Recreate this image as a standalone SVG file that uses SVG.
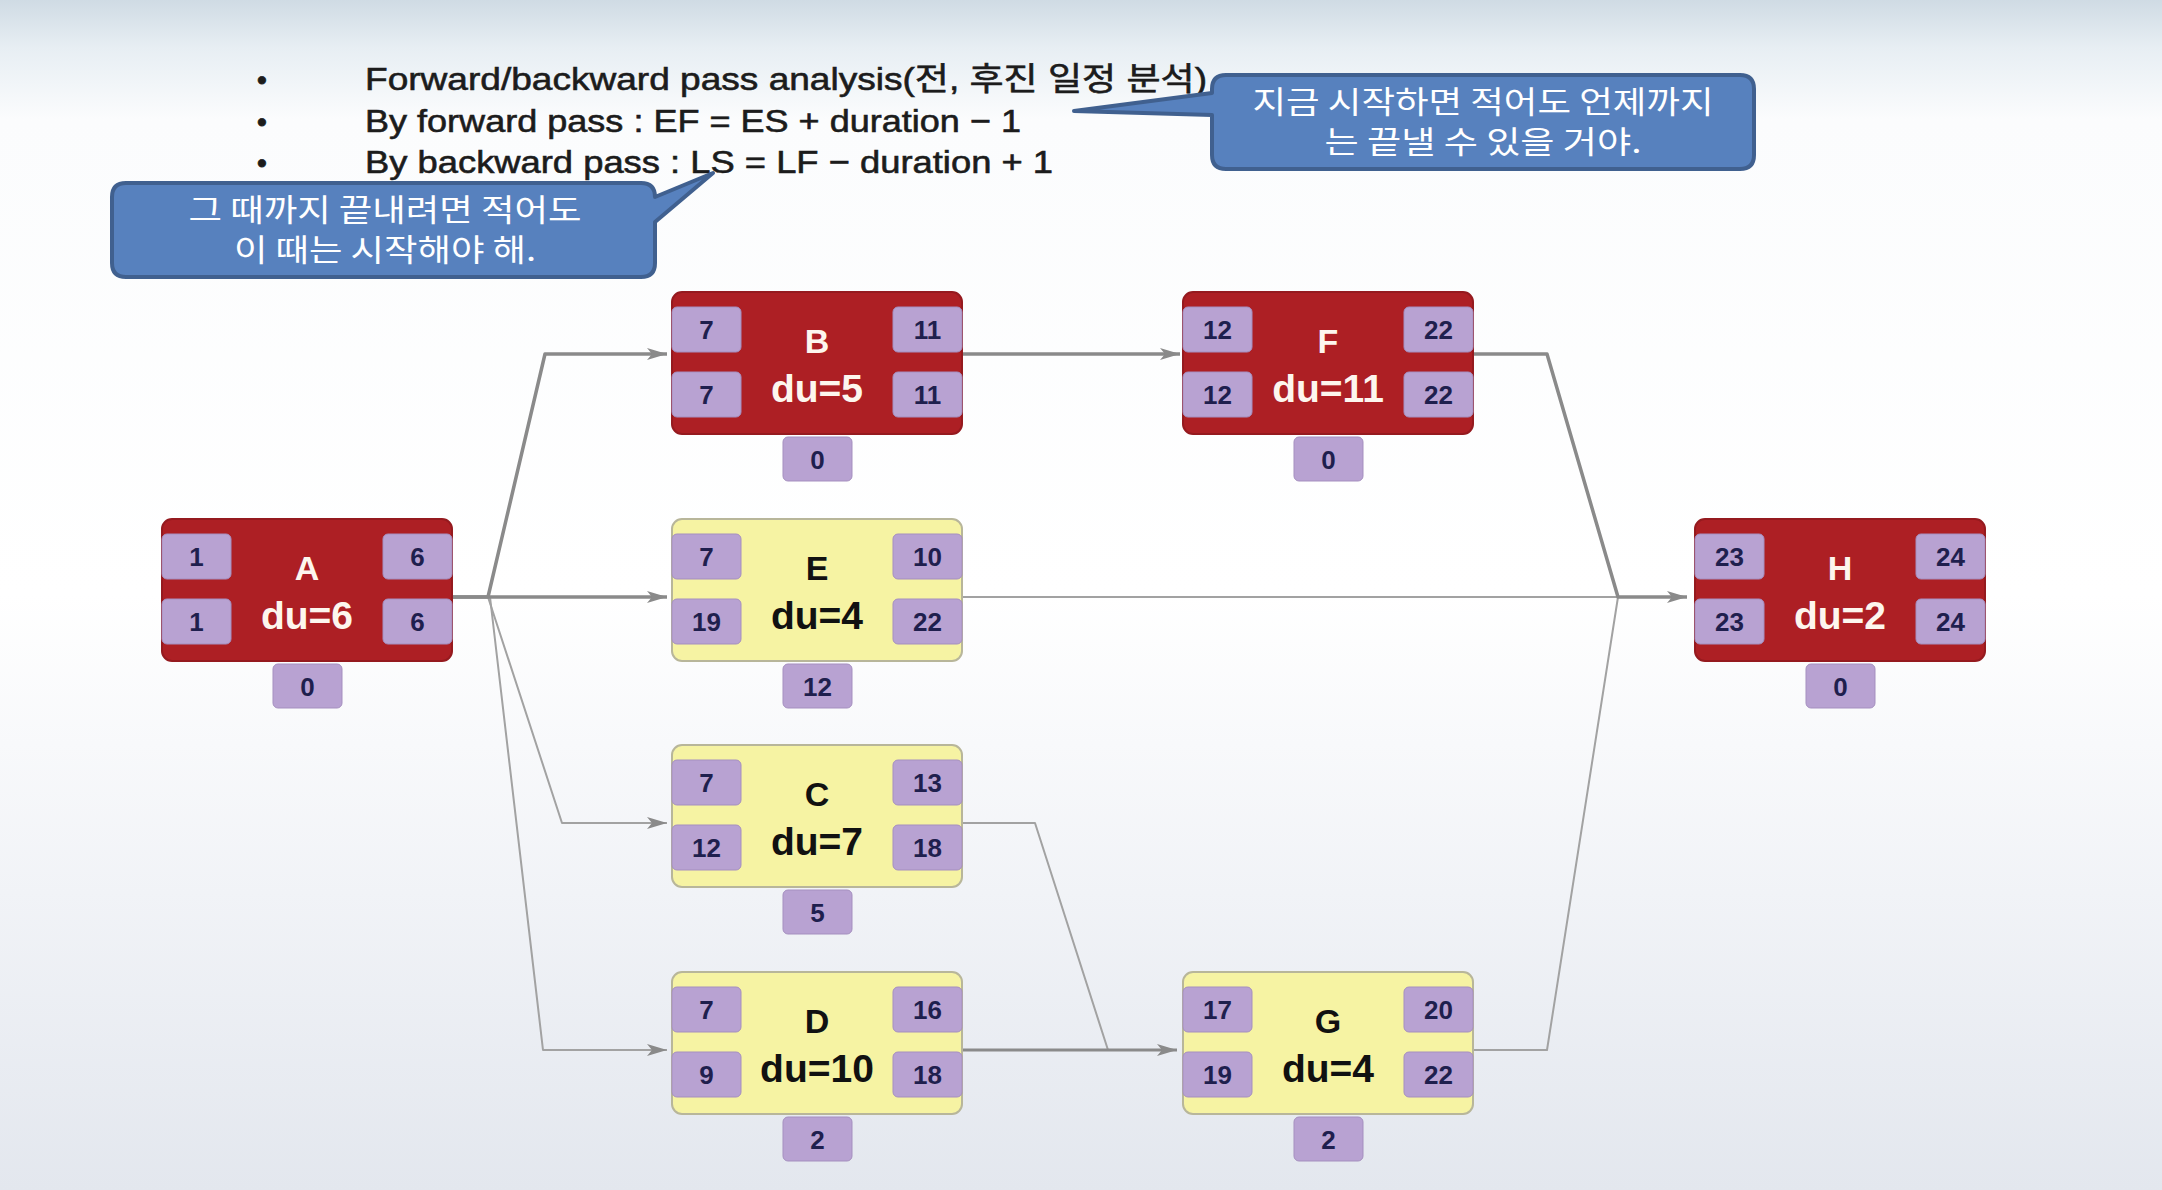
<svg xmlns="http://www.w3.org/2000/svg" width="2162" height="1190" viewBox="0 0 2162 1190">
<defs>
<linearGradient id="bg" x1="0" y1="0" x2="0" y2="1">
<stop offset="0" stop-color="#cfdbe4"/>
<stop offset="0.04" stop-color="#e7eef3"/>
<stop offset="0.1" stop-color="#fbfcfd"/>
<stop offset="0.5" stop-color="#ffffff"/>
<stop offset="0.75" stop-color="#f1f3f7"/>
<stop offset="1" stop-color="#e3e7ee"/>
</linearGradient>
<marker id="ah" markerUnits="userSpaceOnUse" markerWidth="22" markerHeight="14" refX="20" refY="7" orient="auto">
<path d="M0,1 L20,7 L0,13 L5,7 Z" fill="#8a8a8a"/>
</marker>
</defs>
<style>
.hdr{font-family:"Liberation Sans","Noto Sans CJK KR",sans-serif;font-size:32px;fill:#1c1c1c;stroke:#1c1c1c;stroke-width:0.6}
.bul{font-family:"Liberation Sans",sans-serif;font-size:28px;fill:#1c1c1c;stroke:#1c1c1c;stroke-width:0.8}
.call{fill:#5781be;stroke:#40608f;stroke-width:4;stroke-linejoin:round}
.ct{font-family:"Noto Sans CJK KR",sans-serif;font-size:31px;fill:#ffffff;text-anchor:middle}
.red{fill:#ad1f24;stroke:#951a1f;stroke-width:2}
.yel{fill:#f6f3a3;stroke:#b8b69a;stroke-width:2}
.pb{fill:#b8a2d2;stroke:#a58fbf;stroke-width:1}
.num{font-family:"Liberation Sans",sans-serif;font-weight:bold;font-size:26px;fill:#1f1f4e;text-anchor:middle}
.lt{font-family:"Liberation Sans",sans-serif;font-weight:bold;font-size:34px;text-anchor:middle}
.du{font-family:"Liberation Sans",sans-serif;font-weight:bold;font-size:39px;text-anchor:middle}
.w{fill:#fdf6ee}
.k{fill:#111111}
.thick{fill:none;stroke:#8a8a8a;stroke-width:3.5;stroke-linejoin:round}
.thin{fill:none;stroke:#a2a2a2;stroke-width:2;stroke-linejoin:round}
</style>
<rect x="0" y="0" width="2162" height="1190" fill="url(#bg)"/>

<g id="header">
<text class="bul" x="257" y="89">•</text>
<text class="bul" x="257" y="131">•</text>
<text class="bul" x="257" y="172">•</text>
<text class="hdr" x="365" y="90" textLength="842" lengthAdjust="spacingAndGlyphs">Forward/backward pass analysis(전, 후진 일정 분석)</text>
<text class="hdr" x="365" y="132" textLength="656" lengthAdjust="spacingAndGlyphs">By forward pass : EF = ES + duration − 1</text>
<text class="hdr" x="365" y="173" textLength="688" lengthAdjust="spacingAndGlyphs">By backward pass : LS = LF − duration + 1</text>
</g>

<g id="callout-right">
<path class="call" d="M1226,75 H1740 Q1754,75 1754,89 V155 Q1754,169 1740,169 H1226 Q1212,169 1212,155 V115 L1074,111 L1212,93 V89 Q1212,75 1226,75 Z"/>
<text class="ct" x="1483" y="113" textLength="461" lengthAdjust="spacingAndGlyphs">지금 시작하면 적어도 언제까지</text>
<text class="ct" x="1483" y="153" textLength="317" lengthAdjust="spacingAndGlyphs">는 끝낼 수 있을 거야.</text>
</g>

<g id="callout-left">
<path class="call" d="M126,183 H641 Q655,183 655,197 L713,173 L655,222 V263 Q655,277 641,277 H126 Q112,277 112,263 V197 Q112,183 126,183 Z"/>
<text class="ct" x="385" y="221" textLength="393" lengthAdjust="spacingAndGlyphs">그 때까지 끝내려면 적어도</text>
<text class="ct" x="385" y="261" textLength="302" lengthAdjust="spacingAndGlyphs">이 때는 시작해야 해.</text>
</g>

<g id="connectors">
<path class="thin" d="M488,597 L562,823 H667" marker-end="url(#ah)"/>
<path class="thin" d="M490,597 L543,1050 H667" marker-end="url(#ah)"/>
<path class="thin" d="M962,597 H1618"/>
<path class="thin" d="M962,823 H1035 L1108,1050"/>
<path class="thin" d="M1473,1050 H1547 L1618,597"/>
<path class="thick" d="M452,597 H488 L545,354 H667" marker-end="url(#ah)"/>
<path class="thick" d="M452,597 H667" marker-end="url(#ah)"/>
<path class="thick" d="M962,354 H1180" marker-end="url(#ah)"/>
<path class="thick" d="M1473,354 H1547 L1618,597 H1687" marker-end="url(#ah)"/>
<path class="thick" style="stroke-width:3" d="M962,1050 H1177" marker-end="url(#ah)"/>
</g>

<g id="node-A" transform="translate(162,519)">
<rect class="red" x="0" y="0" width="290" height="142" rx="10"/>
<rect class="pb" x="0" y="15" width="69" height="45" rx="5"/><text class="num" x="34.5" y="47">1</text>
<rect class="pb" x="0" y="80" width="69" height="45" rx="5"/><text class="num" x="34.5" y="112">1</text>
<rect class="pb" x="221" y="15" width="69" height="45" rx="5"/><text class="num" x="255.5" y="47">6</text>
<rect class="pb" x="221" y="80" width="69" height="45" rx="5"/><text class="num" x="255.5" y="112">6</text>
<text class="lt w" x="145" y="61">A</text><text class="du w" x="145" y="110">du=6</text>
<rect class="pb" x="111" y="145" width="69" height="44" rx="5"/><text class="num" x="145.5" y="177">0</text>
</g>

<g id="node-B" transform="translate(672,292)">
<rect class="red" x="0" y="0" width="290" height="142" rx="10"/>
<rect class="pb" x="0" y="15" width="69" height="45" rx="5"/><text class="num" x="34.5" y="47">7</text>
<rect class="pb" x="0" y="80" width="69" height="45" rx="5"/><text class="num" x="34.5" y="112">7</text>
<rect class="pb" x="221" y="15" width="69" height="45" rx="5"/><text class="num" x="255.5" y="47">11</text>
<rect class="pb" x="221" y="80" width="69" height="45" rx="5"/><text class="num" x="255.5" y="112">11</text>
<text class="lt w" x="145" y="61">B</text><text class="du w" x="145" y="110">du=5</text>
<rect class="pb" x="111" y="145" width="69" height="44" rx="5"/><text class="num" x="145.5" y="177">0</text>
</g>

<g id="node-E" transform="translate(672,519)">
<rect class="yel" x="0" y="0" width="290" height="142" rx="10"/>
<rect class="pb" x="0" y="15" width="69" height="45" rx="5"/><text class="num" x="34.5" y="47">7</text>
<rect class="pb" x="0" y="80" width="69" height="45" rx="5"/><text class="num" x="34.5" y="112">19</text>
<rect class="pb" x="221" y="15" width="69" height="45" rx="5"/><text class="num" x="255.5" y="47">10</text>
<rect class="pb" x="221" y="80" width="69" height="45" rx="5"/><text class="num" x="255.5" y="112">22</text>
<text class="lt k" x="145" y="61">E</text><text class="du k" x="145" y="110">du=4</text>
<rect class="pb" x="111" y="145" width="69" height="44" rx="5"/><text class="num" x="145.5" y="177">12</text>
</g>

<g id="node-C" transform="translate(672,745)">
<rect class="yel" x="0" y="0" width="290" height="142" rx="10"/>
<rect class="pb" x="0" y="15" width="69" height="45" rx="5"/><text class="num" x="34.5" y="47">7</text>
<rect class="pb" x="0" y="80" width="69" height="45" rx="5"/><text class="num" x="34.5" y="112">12</text>
<rect class="pb" x="221" y="15" width="69" height="45" rx="5"/><text class="num" x="255.5" y="47">13</text>
<rect class="pb" x="221" y="80" width="69" height="45" rx="5"/><text class="num" x="255.5" y="112">18</text>
<text class="lt k" x="145" y="61">C</text><text class="du k" x="145" y="110">du=7</text>
<rect class="pb" x="111" y="145" width="69" height="44" rx="5"/><text class="num" x="145.5" y="177">5</text>
</g>

<g id="node-D" transform="translate(672,972)">
<rect class="yel" x="0" y="0" width="290" height="142" rx="10"/>
<rect class="pb" x="0" y="15" width="69" height="45" rx="5"/><text class="num" x="34.5" y="47">7</text>
<rect class="pb" x="0" y="80" width="69" height="45" rx="5"/><text class="num" x="34.5" y="112">9</text>
<rect class="pb" x="221" y="15" width="69" height="45" rx="5"/><text class="num" x="255.5" y="47">16</text>
<rect class="pb" x="221" y="80" width="69" height="45" rx="5"/><text class="num" x="255.5" y="112">18</text>
<text class="lt k" x="145" y="61">D</text><text class="du k" x="145" y="110">du=10</text>
<rect class="pb" x="111" y="145" width="69" height="44" rx="5"/><text class="num" x="145.5" y="177">2</text>
</g>

<g id="node-F" transform="translate(1183,292)">
<rect class="red" x="0" y="0" width="290" height="142" rx="10"/>
<rect class="pb" x="0" y="15" width="69" height="45" rx="5"/><text class="num" x="34.5" y="47">12</text>
<rect class="pb" x="0" y="80" width="69" height="45" rx="5"/><text class="num" x="34.5" y="112">12</text>
<rect class="pb" x="221" y="15" width="69" height="45" rx="5"/><text class="num" x="255.5" y="47">22</text>
<rect class="pb" x="221" y="80" width="69" height="45" rx="5"/><text class="num" x="255.5" y="112">22</text>
<text class="lt w" x="145" y="61">F</text><text class="du w" x="145" y="110">du=11</text>
<rect class="pb" x="111" y="145" width="69" height="44" rx="5"/><text class="num" x="145.5" y="177">0</text>
</g>

<g id="node-G" transform="translate(1183,972)">
<rect class="yel" x="0" y="0" width="290" height="142" rx="10"/>
<rect class="pb" x="0" y="15" width="69" height="45" rx="5"/><text class="num" x="34.5" y="47">17</text>
<rect class="pb" x="0" y="80" width="69" height="45" rx="5"/><text class="num" x="34.5" y="112">19</text>
<rect class="pb" x="221" y="15" width="69" height="45" rx="5"/><text class="num" x="255.5" y="47">20</text>
<rect class="pb" x="221" y="80" width="69" height="45" rx="5"/><text class="num" x="255.5" y="112">22</text>
<text class="lt k" x="145" y="61">G</text><text class="du k" x="145" y="110">du=4</text>
<rect class="pb" x="111" y="145" width="69" height="44" rx="5"/><text class="num" x="145.5" y="177">2</text>
</g>

<g id="node-H" transform="translate(1695,519)">
<rect class="red" x="0" y="0" width="290" height="142" rx="10"/>
<rect class="pb" x="0" y="15" width="69" height="45" rx="5"/><text class="num" x="34.5" y="47">23</text>
<rect class="pb" x="0" y="80" width="69" height="45" rx="5"/><text class="num" x="34.5" y="112">23</text>
<rect class="pb" x="221" y="15" width="69" height="45" rx="5"/><text class="num" x="255.5" y="47">24</text>
<rect class="pb" x="221" y="80" width="69" height="45" rx="5"/><text class="num" x="255.5" y="112">24</text>
<text class="lt w" x="145" y="61">H</text><text class="du w" x="145" y="110">du=2</text>
<rect class="pb" x="111" y="145" width="69" height="44" rx="5"/><text class="num" x="145.5" y="177">0</text>
</g>
</svg>
